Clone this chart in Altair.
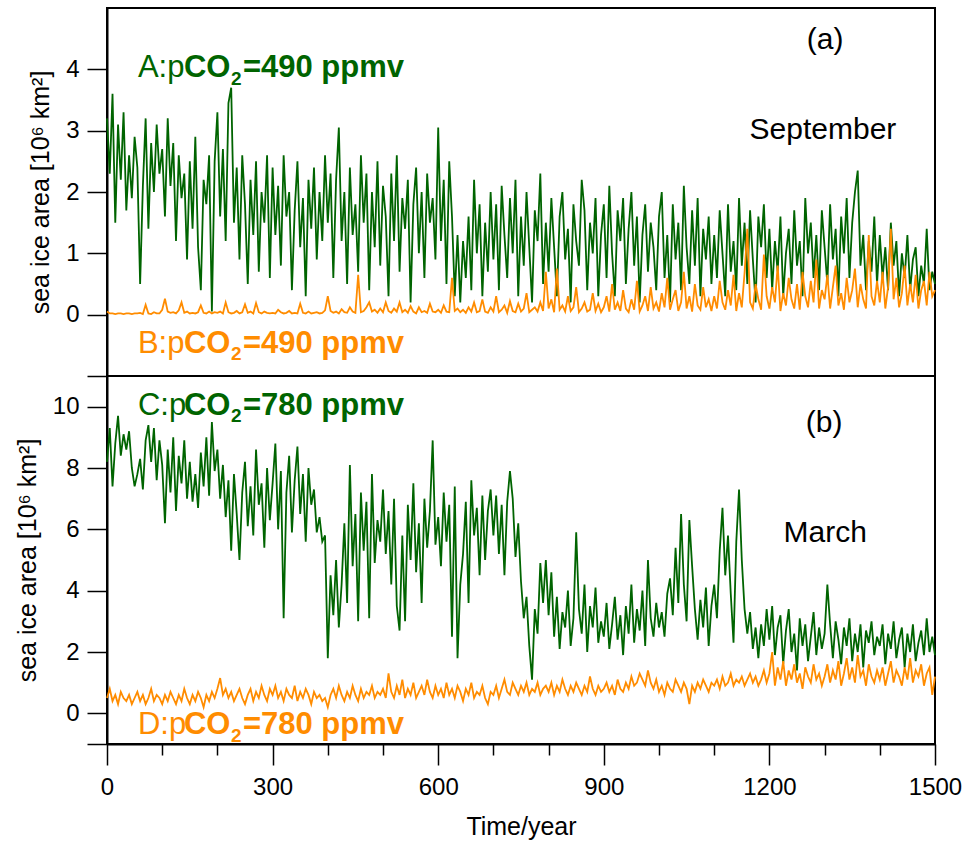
import altair as alt
import pandas as pd

FONT = "Liberation Sans"
GREEN = "#006400"
ORANGE = "#FF8C00"

# years sampled every 5 years, 0..1500
years = list(range(0, 1501, 5))

# (a) September, pCO2 = 490 ppmv, run A (green)
sep_A = [
    3.2, 2.3, 3.6, 1.5, 3.1, 2.2, 3.3, 1.7, 2.6, 1.9, 2.9, 2.4, 0.5, 2.1, 3.2, 1.4, 2.8, 2.0, 3.1, 2.3,
    2.7, 1.6, 3.2, 2.1, 2.8, 1.2, 2.6, 1.9, 2.3, 0.9, 2.5, 1.4, 2.9, 1.1, 0.4, 2.2, 1.8, 2.6, 0.05, 2.5,
    3.3, 1.6, 2.7, 1.2, 3.45, 3.7, 1.5, 2.4, 0.9, 2.6, 1.8, 0.5, 2.2, 1.3, 2.5, 0.7, 2.0, 1.5, 2.6, 0.6,
    2.4, 1.3, 2.1, 0.8, 2.6, 1.6, 2.0, 0.4, 1.7, 2.5, 1.1, 1.9, 0.3, 2.2, 1.4, 2.4, 0.9, 2.0, 1.2, 2.6,
    1.5, 2.3, 0.6, 2.2, 3.05, 1.2, 2.0, 0.5, 2.4, 1.3, 1.8, 0.7, 2.6, 1.5, 2.3, 0.4, 2.0, 1.1, 2.5, 0.8,
    2.1, 1.6, 0.3, 2.3, 1.2, 2.6, 0.7, 1.9, 1.4, 2.2, 0.2, 1.8, 2.4, 1.0, 2.0, 0.6, 2.3, 1.5, 1.9, 0.9,
    3.05, 1.2, 2.2, 0.5, 2.5, 1.6, 0.3, 1.3, 0.2, 1.2, 0.6, 1.6, 0.4, 2.2, 1.0, 1.8, 0.3, 1.5, 0.7, 2.0,
    0.9, 1.8, 0.4, 2.1, 1.3, 0.6, 1.9, 1.0, 2.2, 0.3, 1.6, 0.8, 2.0, 1.1, 0.2, 1.7, 1.2, 2.3, 0.5, 1.5,
    0.7, 1.9, 1.1, 0.3, 1.6, 2.0, 0.9, 1.4, 0.2, 1.8, 1.2, 0.8, 2.2, 1.7, 0.4, 1.5, 1.0, 1.9, 0.3, 1.3,
    1.8, 0.6, 2.1, 1.0, 0.3, 1.7, 1.2, 1.9, 0.5, 1.4, 2.0, 0.8, 1.6, 0.2, 1.3, 1.8, 0.7, 1.5, 1.1, 0.4,
    1.6, 2.0, 0.6, 1.3, 0.2, 1.8, 0.9, 1.5, 0.4, 2.1, 1.1, 0.5, 1.7, 0.8, 1.9, 0.3, 1.4, 0.9, 1.6, 0.5,
    1.3, 0.6, 1.7, 1.0, 0.3, 1.8, 0.7, 1.2, 0.4, 1.9, 0.8, 1.5, 0.5, 1.7, 0.9, 0.2, 1.6, 1.1, 1.8, 0.6,
    1.4, 0.4, 1.2, 0.7, 1.6, 0.3, 1.0, 1.4, 0.5, 1.7, 0.8, 1.2, 0.3, 1.9, 1.0, 1.5, 0.6, 1.3, 0.4, 1.7,
    1.1, 0.5, 1.8, 0.9, 1.4, 0.3, 1.6, 1.0, 1.9, 0.6, 1.5, 2.0, 2.35, 0.8, 1.3, 0.4, 1.2, 0.7, 1.6, 0.5,
    1.3, 0.6, 1.1, 0.4, 1.5, 0.8, 1.2, 0.3, 1.0, 0.6, 1.3, 0.4, 0.9, 1.1, 0.3, 0.8, 0.5, 1.4, 0.4, 0.7,
    0.5,
]

# (a) September, pCO2 = 490 ppmv, run B (orange)
sep_B = [
    0.05, 0.02, 0.02, 0.01, 0.02, 0.02, 0.01, 0.02, 0.02, 0.01, 0.02, 0.02, 0.03, 0.01, 0.16, 0.02, 0.01, 0.04, 0.02, 0.02,
    0.08, 0.26, 0.05, 0.03, 0.04, 0.02, 0.07, 0.20, 0.03, 0.05, 0.02, 0.03, 0.02, 0.04, 0.15, 0.03, 0.02, 0.05, 0.02, 0.04,
    0.03, 0.05, 0.02, 0.20, 0.04, 0.02, 0.03, 0.06, 0.02, 0.04, 0.17, 0.03, 0.05, 0.02, 0.19, 0.04, 0.02, 0.05, 0.03, 0.02,
    0.03, 0.02, 0.08, 0.04, 0.02, 0.03, 0.06, 0.02, 0.03, 0.02, 0.18, 0.03, 0.02, 0.05, 0.02, 0.03, 0.04, 0.02, 0.03, 0.07,
    0.30, 0.06, 0.03, 0.05, 0.02, 0.09, 0.04, 0.03, 0.12, 0.05, 0.03, 0.65, 0.04, 0.06, 0.12, 0.20, 0.05, 0.08, 0.03, 0.10,
    0.04, 0.20, 0.06, 0.03, 0.10, 0.05, 0.20, 0.04, 0.08, 0.03, 0.14, 0.05, 0.02, 0.12, 0.04, 0.06, 0.03, 0.18, 0.05, 0.04,
    0.08, 0.03, 0.15, 0.05, 0.04, 0.60, 0.06, 0.10, 0.04, 0.08, 0.03, 0.12, 0.05, 0.20, 0.04, 0.06, 0.25, 0.05, 0.03, 0.12,
    0.05, 0.30, 0.04, 0.08, 0.15, 0.03, 0.22, 0.06, 0.04, 0.18, 0.05, 0.10, 0.35, 0.04, 0.08, 0.12, 0.05, 0.20, 0.06, 0.70,
    0.10, 0.25, 0.04, 0.75, 0.08, 0.15, 0.05, 0.30, 0.06, 0.12, 0.45, 0.04, 0.10, 0.20, 0.05, 0.08, 0.35, 0.06, 0.18, 0.04,
    0.12, 0.30, 0.05, 0.50, 0.08, 0.20, 0.06, 0.40, 0.10, 0.04, 0.25, 0.08, 0.55, 0.05, 0.15, 0.30, 0.06, 0.45, 0.10, 0.20,
    0.05, 0.35, 0.12, 0.60, 0.08, 0.25, 0.40, 0.06, 0.20, 0.70, 0.10, 0.30, 0.05, 0.50, 0.15, 0.08, 0.45, 0.12, 0.25, 0.06,
    0.30, 0.10, 0.55, 0.20, 0.08, 0.40, 0.15, 0.65, 0.06, 0.35, 0.12, 0.68, 1.40, 0.20, 0.10, 0.50, 0.25, 0.08, 0.98, 0.30,
    0.10, 0.45, 0.20, 0.80, 0.06, 0.35, 0.15, 0.60, 0.25, 0.10, 0.50, 0.08, 0.70, 0.30, 0.12, 0.55, 0.20, 0.90, 0.10, 0.40,
    0.25, 0.65, 0.10, 0.45, 0.80, 0.15, 0.35, 0.08, 0.60, 0.20, 0.40, 0.75, 0.12, 0.50, 0.25, 0.10, 1.30, 0.30, 0.15, 0.55,
    0.20, 0.70, 0.10, 0.45, 1.40, 0.25, 0.60, 0.12, 0.35, 0.80, 0.15, 0.50, 0.20, 0.65, 0.10, 0.40, 0.55, 0.15, 0.70, 0.30,
    0.40,
]

# (b) March, pCO2 = 780 ppmv, run C (green)
mar_C = [
    8.2, 9.3, 7.4, 8.8, 9.7, 8.4, 9.1, 8.6, 9.2, 8.0, 7.4, 7.8, 8.3, 7.3, 8.9, 9.4, 8.2, 9.3, 7.6, 8.9,
    8.1, 6.2, 8.6, 7.2, 9.0, 6.6, 8.4, 7.5, 8.9, 7.0, 8.2, 6.9, 7.8, 6.7, 8.5, 7.4, 9.0, 7.1, 9.5, 7.9,
    8.6, 7.0, 8.1, 6.4, 7.6, 5.3, 7.8, 6.5, 5.0, 7.2, 8.2, 6.1, 7.4, 5.8, 8.6, 6.8, 7.5, 5.4, 8.0, 6.3,
    7.5, 8.8, 6.0, 7.9, 3.1, 7.2, 8.4, 5.9, 7.6, 8.7, 6.5, 7.8, 5.6, 8.0, 6.8, 7.3, 5.9, 6.4, 5.6, 5.8,
    1.8, 4.5, 3.2, 5.0, 2.8, 4.2, 6.2, 3.6, 8.1, 4.8, 6.5, 3.0, 7.2, 5.3, 6.9, 3.1, 7.8, 4.9, 6.3, 5.6,
    7.3, 5.2, 6.6, 4.2, 7.0, 3.5, 2.7, 5.8, 3.0, 6.8, 5.0, 7.5, 4.6, 6.2, 3.6, 7.0, 5.4, 6.6, 8.9, 5.5,
    6.4, 4.8, 7.2, 5.6, 6.8, 2.5, 7.4, 1.8, 4.2, 5.2, 6.9, 3.6, 7.6, 5.8, 6.7, 4.5, 7.1, 5.0, 6.6, 7.3,
    5.8, 7.1, 5.2, 6.8, 4.5, 6.9, 7.9, 7.0, 5.1, 6.2, 4.3, 3.1, 3.8, 2.2, 1.1, 3.4, 2.6, 4.9, 3.6, 5.0,
    3.2, 4.6, 2.5, 3.8, 2.1, 3.3, 2.8, 4.0, 2.2, 3.1, 5.9, 3.4, 2.6, 4.2, 2.0, 3.5, 2.8, 4.1, 2.3, 3.0,
    2.5, 3.6, 2.1, 2.9, 3.8, 2.4, 3.2, 1.9, 3.5, 2.6, 4.2, 2.3, 3.4, 2.7, 4.0, 2.2, 5.0, 3.1, 2.5, 3.6,
    2.8, 3.3, 2.5, 3.9, 4.4, 3.2, 5.4, 3.6, 6.5, 4.2, 3.0, 6.3, 4.8, 3.4, 2.4, 3.7, 2.8, 4.1, 2.2, 3.5,
    4.2, 3.1, 5.3, 6.7, 4.5, 5.8, 3.9, 2.3, 5.6, 7.3, 5.0, 3.4, 2.6, 3.3, 2.1, 2.8, 1.8, 2.9, 2.2, 3.4,
    2.4, 3.5, 1.9, 2.8, 3.2, 1.6, 2.7, 3.4, 2.0, 2.6, 1.4, 3.1, 2.2, 2.9, 1.7, 2.5, 3.3, 1.9, 2.8, 2.1,
    2.6, 4.2, 2.9, 1.8, 3.0, 2.4, 1.6, 2.8, 2.2, 3.1, 1.7, 2.6, 2.0, 2.9, 1.5, 2.7, 2.3, 3.0, 1.9, 2.5,
    2.2, 2.9, 1.6, 2.6, 2.1, 3.0, 1.8, 2.4, 2.8, 1.5, 2.6, 2.0, 2.9, 1.7, 2.3, 2.7, 1.9, 3.1, 2.0, 2.5,
    1.9,
]

# (b) March, pCO2 = 780 ppmv, run D (orange)
mar_D = [
    0.5, 0.8, 0.4, 0.6, 0.3, 0.7, 0.5, 0.4, 0.6, 0.3, 0.5, 0.7, 0.4, 0.6, 0.3, 0.5, 0.8, 0.4, 0.6, 0.5,
    0.3, 0.6, 0.4, 0.7, 0.5, 0.3, 0.6, 0.4, 0.8, 0.5, 0.3, 0.6, 0.4, 0.7, 0.5, 0.2, 0.6, 0.4, 0.7, 0.5,
    0.8, 1.15, 0.6, 0.8, 0.5, 0.7, 0.4, 0.6, 0.8, 0.5, 0.3, 0.6, 0.8, 0.4, 0.7, 0.5, 0.9, 0.6, 0.4, 0.8,
    0.6, 0.9, 0.5, 0.7, 0.4, 0.8, 0.6, 0.5, 0.9, 0.4, 0.7, 0.5, 0.8, 0.6, 0.3, 0.7, 0.5, 0.6, 0.4, 0.5,
    0.2, 0.6, 0.8, 0.5, 0.9, 0.6, 0.4, 0.7, 0.5, 0.9, 0.6, 0.4, 0.8, 0.5, 0.7, 0.6, 0.9, 0.5, 0.7, 0.6,
    0.8, 0.5, 1.3, 0.7, 0.5, 0.9, 0.6, 1.1, 0.5, 0.8, 0.6, 1.0, 0.5, 0.7, 0.9, 0.6, 1.1, 0.7, 0.5, 0.9,
    0.6, 0.8, 0.5, 1.0, 0.6, 0.8, 0.5, 0.9, 0.7, 0.4, 0.8, 0.6, 1.0, 0.5, 0.7, 0.6, 0.9, 0.5, 0.3, 0.7,
    0.6, 0.9, 0.5, 0.8, 1.1, 0.7, 0.6, 1.0, 0.8, 0.6, 0.9, 0.7, 1.0, 0.6, 0.8, 0.7, 1.0, 0.6, 0.8, 0.9,
    0.7, 1.0, 0.6, 0.9, 0.7, 1.1, 0.8, 0.6, 0.9, 0.7, 1.0, 0.8, 0.6, 0.9, 0.7, 1.2, 0.8, 0.6, 0.9, 0.7,
    0.8, 1.0, 0.7, 0.9, 0.6, 1.1, 0.8, 0.7, 1.0, 0.8, 1.2, 0.9, 1.0, 1.3, 1.1, 0.9, 1.4, 1.0, 0.8, 1.1,
    0.7, 0.9, 0.6, 1.0, 0.8, 0.7, 1.1, 0.9, 0.7, 1.0, 0.8, 0.3, 0.9, 0.7, 1.0, 0.8, 1.1, 0.9, 0.7, 1.0,
    0.9, 1.1, 0.8, 1.2, 0.9, 1.0, 1.3, 0.9, 1.1, 1.0, 1.2, 0.9, 1.1, 1.3, 1.0, 1.2, 0.9, 1.1, 1.4, 1.0,
    1.3, 2.0, 0.9, 1.5, 1.1, 1.7, 0.9, 1.4, 1.1, 1.6, 1.0, 1.3, 0.8, 1.5, 1.2, 1.0, 1.6, 1.1, 1.3, 0.9,
    1.2, 1.6, 1.0, 1.4, 1.1, 1.7, 0.9, 1.3, 1.8, 1.1, 1.5, 1.0, 1.9, 1.2, 1.4, 0.9, 1.6, 1.2, 1.0, 1.4,
    1.1, 1.5, 0.9, 1.3, 1.7, 1.0, 1.4, 1.2, 0.9, 1.5, 1.1, 1.8, 1.0, 1.4, 1.2, 1.6, 0.9, 1.3, 1.5, 0.6,
    1.2,
]

x_ticks = list(range(0, 1501, 100))
top_y_ticks = [-1, 0, 1, 2, 3, 4]
bot_y_ticks = [-1, 0, 2, 4, 6, 8, 10]

xscale = alt.Scale(domain=[0, 1500], nice=False, zero=False)
yscale_top = alt.Scale(domain=[-1, 5], nice=False, zero=False)
yscale_bot = alt.Scale(domain=[-1, 11], nice=False, zero=False)

YTITLE = "sea ice area [10\u2076 km\u00b2]"


def y_axis(values):
    return alt.Axis(
        values=values,
        format="d",
        labelExpr="datum.value < 0 || datum.value > 10 ? '' : datum.label",
        title=YTITLE,
        tickSize=20,
        tickWidth=1.5,
        tickColor="black",
        domainColor="black",
        domainWidth=2,
        labelFont=FONT,
        labelFontSize=24,
        labelColor="black",
        labelPadding=8,
        titleFont=FONT,
        titleFontSize=25,
        titleFontWeight="normal",
        titleColor="black",
        titlePadding=12,
        grid=False,
    )


x_axis_bottom = alt.Axis(
    values=x_ticks,
    format="d",
    labelExpr="datum.value % 300 === 0 ? datum.label : ''",
    tickSize={"condition": {"test": "datum.value % 300 === 0", "value": 21}, "value": 11},
    tickWidth=1.5,
    tickColor="black",
    domainColor="black",
    domainWidth=2,
    labelFont=FONT,
    labelFontSize=24,
    labelColor="black",
    labelPadding=10,
    title="Time/year",
    titleFont=FONT,
    titleFontSize=25,
    titleFontWeight="normal",
    titleColor="black",
    titlePadding=15,
    labelFlush=False,
    grid=False,
)


def series_line(values, color, yscale, xaxis, yaxis):
    df = pd.DataFrame({"year": years, "area": values})
    return alt.Chart(df).mark_line(color=color, strokeWidth=1.8).encode(
        x=alt.X("year:Q", scale=xscale, axis=xaxis),
        y=alt.Y("area:Q", scale=yscale, axis=yaxis),
    )


def text(label, year, val, yscale, size, color, weight="normal", dx=0, align="left"):
    df = pd.DataFrame({"year": [year], "area": [val], "label": [label]})
    return alt.Chart(df).mark_text(
        font=FONT, fontSize=size, color=color, fontWeight=weight,
        align=align, baseline="alphabetic", dx=dx,
    ).encode(
        x=alt.X("year:Q", scale=xscale),
        y=alt.Y("area:Q", scale=yscale),
        text="label:N",
    )


def co2_label(prefix, ppm, year, val, sub_val, yscale, color):
    return [
        text(prefix + ":p", year, val, yscale, 31, color),
        text("CO", year, val, yscale, 31, color, "bold", dx=46),
        text("2", year, sub_val, yscale, 19, color, "bold", dx=93),
        text("=" + ppm + " ppmv", year, val, yscale, 31, color, "bold", dx=105),
    ]


top_layers = [
    series_line(sep_A, GREEN, yscale_top, None, y_axis(top_y_ticks)),
    series_line(sep_B, ORANGE, yscale_top, None, y_axis(top_y_ticks)),
]
top_layers += co2_label("A", "490", 56, 3.87, 3.75, yscale_top, GREEN)
top_layers += co2_label("B", "490", 56, -0.62, -0.74, yscale_top, ORANGE)
top_layers += [
    text("(a)", 1301, 4.33, yscale_top, 30, "black", align="center"),
    text("September", 1297, 2.87, yscale_top, 30, "black", align="center"),
]

bot_layers = [
    series_line(mar_C, GREEN, yscale_bot, x_axis_bottom, y_axis(bot_y_ticks)),
    series_line(mar_D, ORANGE, yscale_bot, x_axis_bottom, y_axis(bot_y_ticks)),
]
bot_layers += co2_label("C", "780", 56, 9.74, 9.5, yscale_bot, GREEN)
bot_layers += co2_label("D", "780", 56, -0.68, -0.92, yscale_bot, ORANGE)
bot_layers += [
    text("(b)", 1299, 9.19, yscale_bot, 30, "black", align="center"),
    text("March", 1301, 5.6, yscale_bot, 30, "black", align="center"),
]

top = alt.layer(*top_layers).properties(width=828, height=368)
bottom = alt.layer(*bot_layers).properties(width=828, height=368)

chart = (
    alt.vconcat(top, bottom, spacing=0, bounds="flush")
    .properties(
        padding={"left": 14, "top": 7, "right": 2, "bottom": 3},
        background="white",
    )
    .configure_view(stroke="black", strokeWidth=2)
)

chart.save("out.html", embed_options={"renderer": "svg", "actions": False})
